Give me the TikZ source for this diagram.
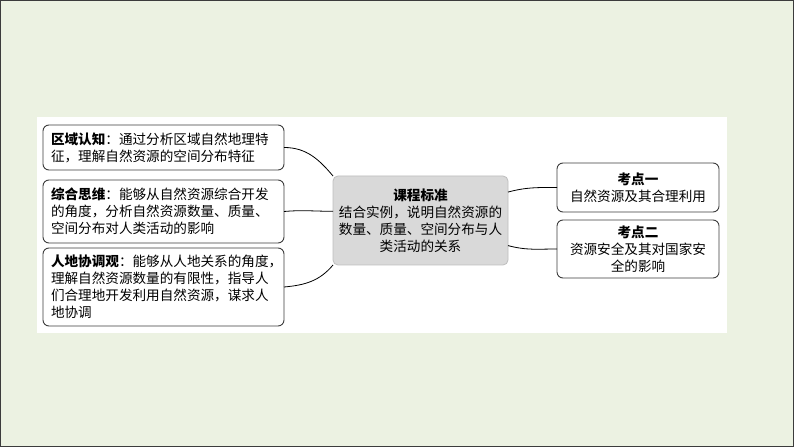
\documentclass[tikz,border=0pt]{standalone}
\usepackage{fontspec}
\setmainfont{Noto Sans CJK SC}
\usetikzlibrary{
  calc,
  positioning
}
\definecolor{slidebg}{RGB}{236,242,226}
\definecolor{corefill}{RGB}{217,217,217}
\definecolor{coreline}{RGB}{190,190,190}
\definecolor{boxline}{RGB}{60,60,60}
\tikzset{
  % For the outer boxes.
  topic box/.style={
    draw=boxline,
    line width=0.9pt,
    rounded corners=6pt,
    fill=white,
    anchor=north west,
    inner xsep=8pt,
    inner ysep=3pt,
    outer sep=0pt,
    font=\fontsize{13.6}{17}\selectfont},
%
  % For the central box.
  core box/.style={
    draw=coreline,
    line width=0.8pt,
    rounded corners=5pt,
    fill=corefill,
    anchor=north west,
    align=center,
    inner sep=0pt,
    outer sep=0pt,
    font=\fontsize{13.6}{17}\selectfont},
%
  % For connecting curves.
  link/.style={
    line width=0.8pt,
    black},
}

\begin{document}
\begin{tikzpicture}[x=1pt,y=1pt]
  \useasboundingbox (0,0) rectangle (794,447);
  \fill[slidebg] (0,0) rectangle (794,447);
  \draw[boxline,line width=1pt] (0.5,0.5) rectangle (793.5,446.5);
  \fill[white] (37,114) rectangle (727,330);

  \node[topic box, text width=225pt, minimum height=45pt, align=left] (areaA) at (43,322)
    {\textbf{区域认知}：通过分析区域自然地理特\\征，理解自然资源的空间分布特征};
  \node[topic box, text width=225pt, minimum height=63pt, align=left] (areaB) at (43,267)
    {\textbf{综合思维}：能够从自然资源综合开发\\的角度，分析自然资源数量、质量、\\空间分布对人类活动的影响};
  \node[topic box, text width=225pt, minimum height=78pt, align=left] (areaC) at (43,199)
    {\textbf{人地协调观}：能够从人地关系的角度，\\理解自然资源数量的有限性，指导人\\们合理地开发利用自然资源，谋求人\\地协调};

  \node[core box, minimum width=175pt, minimum height=89pt] (core) at (333,271)
    {\textbf{课程标准}\\结合实例，说明自然资源的\\数量、质量、空间分布与人\\类活动的关系};

  \node[topic box, text width=146pt, minimum height=49pt, align=center] (pointA) at (557,284)
    {\textbf{考点一}\\自然资源及其合理利用};
  \node[topic box, text width=146pt, minimum height=58pt, align=center] (pointB) at (557,227)
    {\textbf{考点二}\\资源安全及其对国家安\\全的影响};

  \draw[link] (areaA.east) to[out=0,in=130] (core.north west);
  \draw[link] (areaB.east) to[out=5,in=180] (core.174);
  \draw[link] (areaC.east) to[out=5,in=-130] (core.south west);
  \draw[link] (core.18) to[out=15,in=180] (pointA.west);
  \draw[link] (core.-16) to[out=-15,in=180] (pointB.west);
\end{tikzpicture}
\end{document}
